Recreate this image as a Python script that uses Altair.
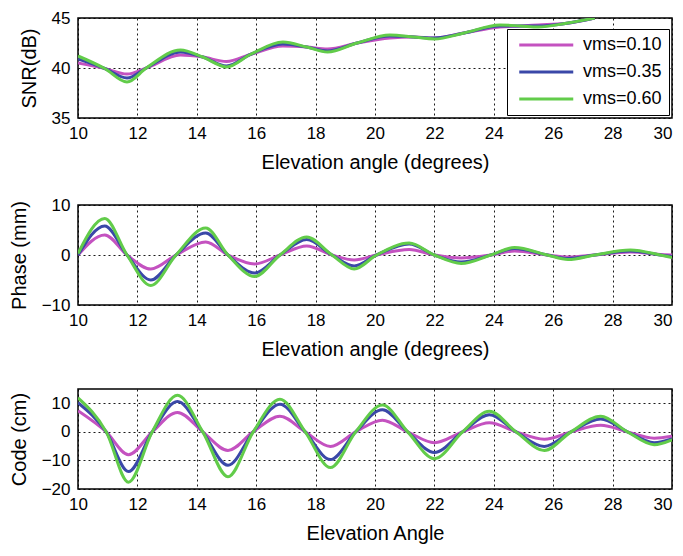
import altair as alt
import pandas as pd

FONT = "Liberation Sans"
series_names = ["vms=0.10", " vms=0.35", "vms=0.60"]
colors = ["#C452C0", "#3A48A8", "#62CC4A"]
x_ticks = [10, 12, 14, 16, 18, 20, 22, 24, 26, 28, 30]

# --- SNR panel ---
snr_angle = [10, 10.9, 11.65, 12.3, 13.45, 14.2, 15.0, 15.8, 16.9, 17.7, 18.4,
             19.4, 20.5, 21.3, 22.0, 23.0, 24.2, 24.9, 25.5, 26.4, 27.4]
snr_010 = [40.5, 39.95, 39.4, 40.0, 41.3, 41.1, 40.65, 41.35, 42.2, 42.1, 41.9,
           42.5, 43.0, 43.1, 43.0, 43.5, 44.1, 44.2, 44.3, 44.45, 45.0]
snr_035 = [40.9, 39.95, 39.0, 40.0, 41.6, 41.1, 40.2, 41.35, 42.4, 42.1, 41.7,
           42.5, 43.2, 43.1, 43.0, 43.5, 44.2, 44.2, 44.2, 44.45, 45.0]
snr_060 = [41.2, 39.95, 38.6, 40.0, 41.8, 41.1, 40.1, 41.35, 42.6, 42.1, 41.6,
           42.5, 43.3, 43.1, 42.9, 43.5, 44.3, 44.2, 44.1, 44.45, 45.0]

# --- Phase panel ---
ph_angle = [10, 10.9, 11.65, 12.45, 13.3, 14.3, 15.05, 15.95, 16.8, 17.7, 18.55,
            19.3, 20.05, 21.15, 22.0, 22.9, 23.9, 24.7, 25.8, 26.5, 27.4, 28.6, 29.6, 30]
ph_010 = [0, 4.0, 0, -2.8, 0, 2.6, 0, -1.8, 0, 1.8, 0,
          -1.0, 0, 1.1, 0, -0.6, 0, 0.8, 0, -0.4, 0, 0.6, 0.1, 0.0]
ph_035 = [0, 5.8, 0, -5.0, 0, 4.4, 0, -3.6, 0, 3.1, 0,
          -2.2, 0, 2.2, 0, -1.4, 0, 1.3, 0, -0.7, 0, 0.8, 0.0, -0.3]
ph_060 = [0.3, 7.3, 0, -6.1, 0, 5.4, 0, -4.3, 0, 3.6, 0,
          -2.8, 0, 2.4, 0, -1.7, 0, 1.5, 0, -0.9, 0, 1.0, 0.0, -0.5]

# --- Code panel ---
cd_angle = [10, 10.95, 11.7, 12.5, 13.35, 14.2, 15.05, 15.9, 16.8, 17.65, 18.5,
            19.35, 20.25, 21.1, 22.0, 22.95, 23.85, 24.75, 25.7, 26.6, 27.6, 28.5, 29.4, 30]
cd_010 = [7.4, 0, -8.0, 0, 6.8, 0, -6.5, 0, 5.5, 0, -5.1,
          0, 4.1, 0, -3.8, 0, 3.2, 0, -2.6, 0, 2.3, 0, -2.2, -1.5]
cd_035 = [10.2, 0, -13.9, 0, 10.6, 0, -11.7, 0, 9.7, 0, -9.7,
          0, 7.7, 0, -7.2, 0, 6.0, 0, -5.1, 0, 4.5, 0, -3.8, -2.5]
cd_060 = [11.9, 0, -17.6, 0, 12.8, 0, -15.7, 0, 11.4, 0, -12.5,
          0, 9.4, 0, -9.4, 0, 7.2, 0, -6.5, 0, 5.5, 0, -4.5, -2.8]


def long_df(angle, vals):
    rows = []
    for name, v in zip(series_names, vals):
        for a, y in zip(angle, v):
            rows.append({"angle": a, "value": y, "series": name})
    return pd.DataFrame(rows)


df_snr = long_df(snr_angle, [snr_010, snr_035, snr_060])
df_ph = long_df(ph_angle, [ph_010, ph_035, ph_060])
df_cd = long_df(cd_angle, [cd_010, cd_035, cd_060])

W, H = 594, 100

x_label_align = {"condition": {"test": "datum.value >= 30", "value": "right"}, "value": "center"}


def panel(df, ydom, yvals, ytitle, xtitle, legend):
    return alt.Chart(df).mark_line(strokeWidth=3, interpolate="monotone", clip=True).encode(
        x=alt.X("angle:Q", scale=alt.Scale(domain=[10, 30], nice=False),
                axis=alt.Axis(values=x_ticks, title=xtitle, format="d", labelAlign=x_label_align)),
        y=alt.Y("value:Q", scale=alt.Scale(domain=ydom, nice=False),
                axis=alt.Axis(values=yvals, title=ytitle, format="d")),
        color=alt.Color("series:N", scale=alt.Scale(domain=series_names, range=colors),
                        sort=series_names, legend=legend),
    ).properties(width=W, height=H)


leg = alt.Legend(title=None, orient="none", legendX=429, legendY=11, direction="vertical",
                 fillColor="white", strokeColor="black", padding=7,
                 symbolType="M-1,0H7", symbolSize=182.25, symbolStrokeWidth=3, symbolOffset=3,
                 labelOffset=48, labelFont=FONT, labelFontSize=18, labelColor="black",
                 rowPadding=9, labelLimit=200)

top = panel(df_snr, [35, 45], [35, 40, 45], "SNR(dB)", "Elevation angle (degrees)", leg)
mid = panel(df_ph, [-10, 10], [-10, 0, 10], "Phase (mm)", "Elevation angle (degrees)", None)
bot = panel(df_cd, [-20, 15], [-20, -10, 0, 10], "Code (cm)", "Elevation Angle", None)

lower = alt.vconcat(mid, bot, spacing=28)
chart = alt.vconcat(top, lower, spacing=22).resolve_scale(color="independent").resolve_legend(
    color="independent"
).properties(
    padding={"left": 0, "top": 0, "right": 0, "bottom": 0}
).configure_view(
    stroke="black", strokeWidth=1.5
).configure_axis(
    labelFont=FONT, labelFontSize=17, labelColor="black",
    titleFont=FONT, titleFontSize=20, titleFontWeight="normal", titleColor="black",
    grid=True, gridColor="black", gridDash=[2, 3], gridWidth=0.9,
    domain=False, ticks=False, labelFlush=False,
).configure_axisX(
    labelPadding=7, titlePadding=11
).configure_axisY(
    labelPadding=8, titlePadding=12
)

chart.save("out.html", embed_options={"renderer": "svg", "actions": False})
